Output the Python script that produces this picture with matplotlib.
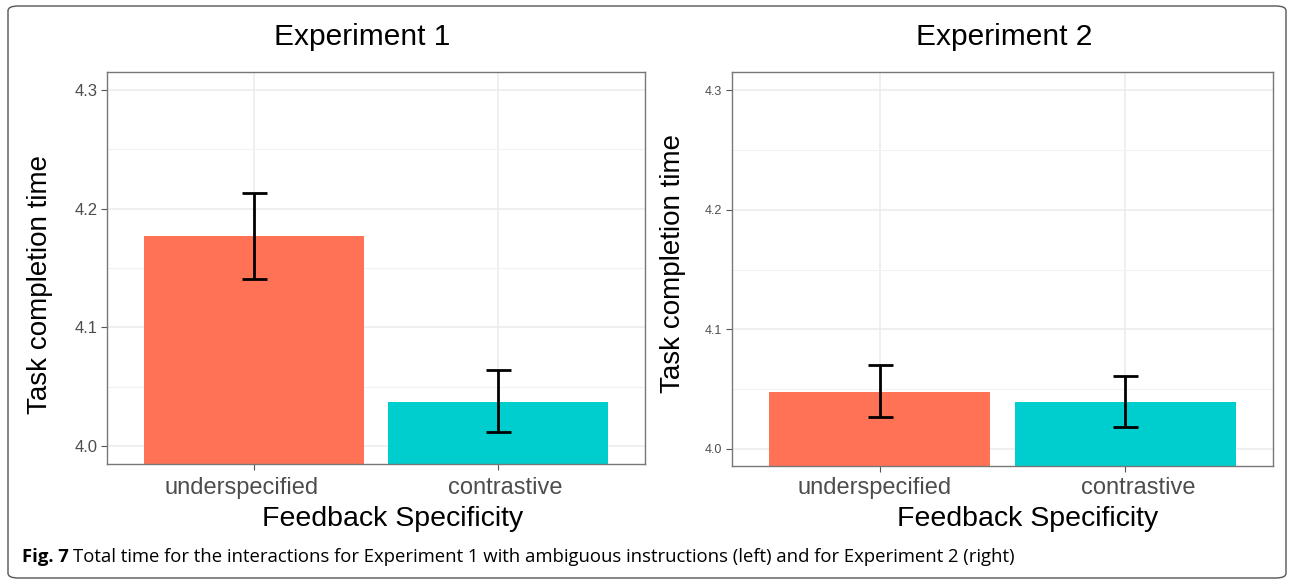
import numpy as np
import matplotlib
matplotlib.use("Agg")
import matplotlib.pyplot as plt
from matplotlib.patches import FancyBboxPatch
from matplotlib.transforms import blended_transform_factory

plt.rcParams['font.family'] = ['Liberation Sans', 'DejaVu Sans']

# Bar means and error bar limits per experiment
conditions = ["underspecified", "contrastive"]
exp1_means = [4.177, 4.037]
exp1_lower = [4.141, 4.012]
exp1_upper = [4.213, 4.064]
exp2_means = [4.048, 4.039]
exp2_lower = [4.027, 4.018]
exp2_upper = [4.070, 4.061]
yticks = [4.0, 4.1, 4.2, 4.3]

bar_colors = ["#FF7256", "#00CDCD"]
W, H = 1294, 585

fig = plt.figure(figsize=(W / 100, H / 100), dpi=100)

# rounded frame around the whole figure
frame = FancyBboxPatch((8 / W, 7 / H), 1278 / W, 572 / H,
                       boxstyle="round,pad=0,rounding_size=0.008",
                       transform=fig.transFigure, fill=False,
                       edgecolor="#555555", linewidth=1.0)
fig.patches.append(frame)


def px_axes(x0, y0, x1, y1):
    return fig.add_axes([x0 / W, 1 - y1 / H, (x1 - x0) / W, (y1 - y0) / H])


def draw_panel(ax, means, lower, upper, ylim, tick_size):
    x = np.arange(1, len(means) + 1)
    ax.bar(x, means, width=0.9, color=bar_colors, zorder=2)
    yerr = [np.array(means) - np.array(lower), np.array(upper) - np.array(means)]
    ax.errorbar(x, means, yerr=yerr, fmt="none", ecolor="black",
                elinewidth=2, capsize=9, capthick=2, zorder=3)
    ax.set_xlim(0.4, 2.6)
    ax.set_ylim(*ylim)
    ax.set_yticks(yticks)
    ax.set_yticklabels([f"{v:.1f}" for v in yticks])
    ax.set_yticks([4.05, 4.15, 4.25], minor=True)
    ax.set_xticks(x)
    ax.set_xticklabels([])
    ax.grid(True, which="major", color="#EBEBEB", linewidth=1.1, zorder=0)
    ax.grid(True, which="minor", axis="y", color="#F2F2F2", linewidth=0.8, zorder=0)
    ax.set_axisbelow(True)
    ax.tick_params(which="major", length=4, color="#555555", width=0.8,
                   labelsize=tick_size, labelcolor="#4D4D4D", pad=3)
    ax.tick_params(which="minor", length=0)
    for s in ax.spines.values():
        s.set_color("#777777")
        s.set_linewidth(1.0)


ax1 = px_axes(107, 72, 645, 464)
draw_panel(ax1, exp1_means, exp1_lower, exp1_upper,
           (4.0 - 18 / 1190, 4.3 + 18 / 1190), 12)
ax2 = px_axes(732, 72, 1273, 466)
draw_panel(ax2, exp2_means, exp2_lower, exp2_upper,
           (4.0 - 17 / 1196, 4.3 + 18 / 1196), 9)

# category labels, axis titles and panel titles
for ax, offs in ((ax1, (-0.05, 0.03)), (ax2, (-0.02, 0.05))):
    trans = blended_transform_factory(ax.transData, fig.transFigure)
    for i, (lab, d) in enumerate(zip(conditions, offs)):
        ax.text(i + 1 + d, 1 - 488 / H, lab, transform=trans,
                ha="center", va="center", fontsize=17, color="#4D4D4D")

fig.text(362 / W, 1 - 37 / H, "Experiment 1", ha="center", va="center", fontsize=21.5)
fig.text(1004 / W, 1 - 37 / H, "Experiment 2", ha="center", va="center", fontsize=21.5)
fig.text(40 / W, 1 - 285 / H, "Task completion time", rotation=90,
         ha="center", va="center", fontsize=20)
fig.text(673 / W, 1 - 264 / H, "Task completion time", rotation=90,
         ha="center", va="center", fontsize=20)
fig.text(393 / W, 1 - 519 / H, "Feedback Specificity", ha="center", va="center", fontsize=20.5)
fig.text(1028 / W, 1 - 519 / H, "Feedback Specificity", ha="center", va="center", fontsize=20.5)

# caption
fig.text(22 / W, 1 - 557 / H, "Fig. 7", ha="left", va="center", fontsize=13.3,
         fontweight="bold", family="Open Sans")
fig.text(73 / W, 1 - 557 / H,
         "Total time for the interactions for Experiment 1 with ambiguous instructions (left) and for Experiment 2 (right)",
         ha="left", va="center", fontsize=13.3, family="Open Sans")

fig.savefig("out.png", dpi=100)
